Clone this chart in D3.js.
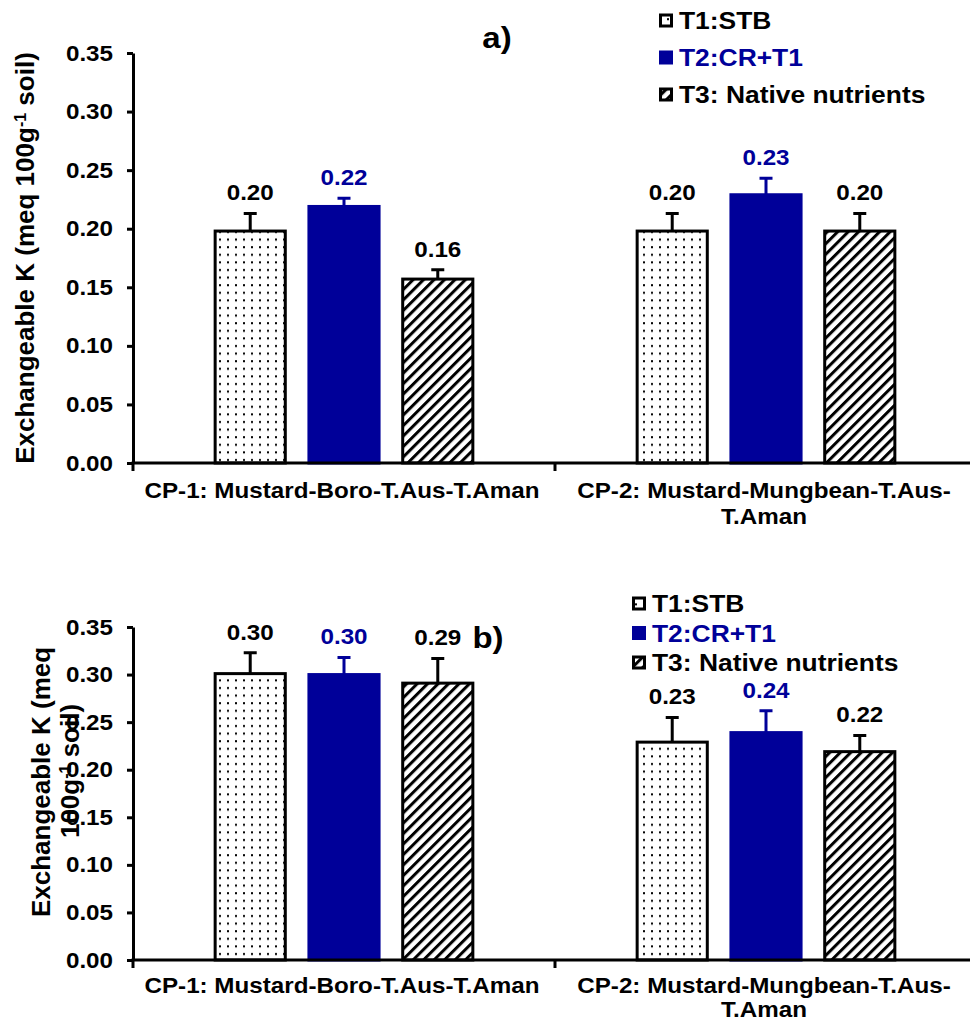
<!DOCTYPE html>
<html>
<head>
<meta charset="utf-8">
<script src="https://cdn.jsdelivr.net/npm/d3@7"></script>
<style>
  body { margin: 0; background: #fff; }
  text { font-family: Arial, "Liberation Sans", sans-serif; font-weight: bold; }
</style>
</head>
<body>
<script>
// categories, series and values
const categories = ["CP-1", "CP-2"];
const categoryLines = [
	["CP-1: Mustard-Boro-T.Aus-T.Aman"],
	["CP-2: Mustard-Mungbean-T.Aus-", "T.Aman"]
];
const seriesNames = ["T1:STB", "T2:CR+T1", "T3: Native nutrients"];
const yTicks = [0, 0.05, 0.1, 0.15, 0.2, 0.25, 0.3, 0.35];

// panel a
const a_T1 = [0.198, 0.198];
const a_T2 = [0.219, 0.229];
const a_T3 = [0.157, 0.198];
const a_errT1 = [0.015, 0.015];
const a_errT2 = [0.007, 0.014];
const a_errT3 = [0.008, 0.015];

// panel b
const b_T1 = [0.301, 0.229];
const b_T2 = [0.300, 0.239];
const b_T3 = [0.291, 0.219];
const b_errT1 = [0.022, 0.026];
const b_errT2 = [0.018, 0.023];
const b_errT3 = [0.026, 0.017];

const width = 970, height = 1027;
const navy = "#000099";
const SX = 1.1; // horizontal stretch of the text in the original image

const svg = d3.select("body").append("svg")
	.attr("width", width)
	.attr("height", height)
	.attr("viewBox", [0, 0, width, height]);

// fill patterns
const defs = svg.append("defs");
const dots = defs.append("pattern")
	.attr("id", "dots")
	.attr("patternUnits", "userSpaceOnUse")
	.attr("width", 8).attr("height", 7.6);
dots.append("rect").attr("width", 8).attr("height", 7.6).attr("fill", "#fff");
dots.append("rect").attr("x", 3).attr("y", 3).attr("width", 2).attr("height", 2).attr("fill", "#000");

const hatch = defs.append("pattern")
	.attr("id", "hatch")
	.attr("patternUnits", "userSpaceOnUse")
	.attr("width", 7.4).attr("height", 10)
	.attr("patternTransform", "rotate(45)");
hatch.append("rect").attr("width", 7.4).attr("height", 10).attr("fill", "#fff");
hatch.append("rect").attr("x", 0).attr("width", 3).attr("height", 10).attr("fill", "#000");

const fills = ["url(#dots)", navy, "url(#hatch)"];
const strokes = ["#000", navy, "#000"];
const labelColors = ["#000", navy, "#000"];

// helper: horizontal text stretched like the source
function stext(g, x, y, str, size, color, anchor) {
	return g.append("text")
		.attr("transform", `translate(${x},${y}) scale(${SX},1)`)
		.attr("text-anchor", anchor || "middle")
		.style("font-size", size + "px")
		.attr("fill", color || "#000")
		.text(str);
}

const xLeft = 133, xRight = 977;

function drawPanel(p) {
	const g = svg.append("g");

	const x = d3.scaleBand().domain(categories).range([xLeft, xRight]);
	const xs = d3.scaleBand().domain(seriesNames).range([0, x.bandwidth()])
		.paddingInner(0.22).paddingOuter(0.86);
	const y = d3.scaleLinear().domain([0, 0.35]).range([p.yBottom, p.yTop]);

	const vals = [p.t1, p.t2, p.t3];
	const errs = [p.e1, p.e2, p.e3];
	const rows = [];
	seriesNames.forEach((s, i) => {
		categories.forEach((c, j) => {
			rows.push({ s: s, i: i, c: c, v: vals[i][j], e: errs[i][j] });
		});
	});

	// bars
	g.selectAll("rect.bar")
		.data(rows)
		.join("rect")
		.attr("class", "bar")
		.attr("x", (d) => x(d.c) + xs(d.s) + 1.5)
		.attr("y", (d) => y(d.v))
		.attr("width", xs.bandwidth() - 3)
		.attr("height", (d) => y(0) - y(d.v))
		.attr("fill", (d) => fills[d.i])
		.attr("stroke", (d) => strokes[d.i])
		.attr("stroke-width", 3);

	// error bars
	const cx = (d) => x(d.c) + xs(d.s) + xs.bandwidth() / 2;
	g.selectAll("path.err")
		.data(rows)
		.join("path")
		.attr("class", "err")
		.attr("d", (d) => `M${cx(d)},${y(d.v)}V${y(d.v + d.e)}M${cx(d) - 6.5},${y(d.v + d.e)}H${cx(d) + 6.5}`)
		.attr("stroke", (d) => strokes[d.i])
		.attr("stroke-width", 3)
		.attr("fill", "none");

	// value labels
	rows.forEach((d) => {
		stext(g, cx(d), y(d.v + d.e) - 13, d.v.toFixed(2), 22, labelColors[d.i]);
	});

	// y axis
	const yAxis = g.append("g")
		.attr("transform", `translate(${xLeft},0)`)
		.call(d3.axisLeft(y).tickValues(yTicks).tickSize(6).tickSizeOuter(0).tickFormat(d3.format(".2f")));
	yAxis.select(".domain").attr("stroke-width", 3).attr("stroke", "#000");
	yAxis.selectAll(".tick line").attr("stroke-width", 3).attr("stroke", "#000");
	yAxis.selectAll(".tick text")
		.attr("x", -20 / SX)
		.attr("transform", `scale(${SX},1)`)
		.attr("fill", "#000")
		.style("font-size", "22px")
		.style("font-family", "Arial, 'Liberation Sans', sans-serif");

	// x axis
	g.append("line")
		.attr("x1", xLeft - 1.5).attr("x2", xRight)
		.attr("y1", y(0)).attr("y2", y(0))
		.attr("stroke", "#000").attr("stroke-width", 3);
	g.selectAll("line.xtick")
		.data(categories.concat(["end"]))
		.join("line")
		.attr("class", "xtick")
		.attr("x1", (d) => (d === "end" ? xRight : x(d)))
		.attr("x2", (d) => (d === "end" ? xRight : x(d)))
		.attr("y1", y(0)).attr("y2", y(0) + 8)
		.attr("stroke", "#000").attr("stroke-width", 3);

	categories.forEach((c, j) => {
		categoryLines[j].forEach((line, k) => {
			stext(g, x(c) + x.bandwidth() / 2 - 2, y(0) + p.catDy + k * p.catStep, line, 22);
		});
	});

	// y axis title
	p.yTitle.forEach((t) => {
		const tt = g.append("text")
			.attr("transform", `translate(${t.x},${t.y}) rotate(-90)`)
			.attr("text-anchor", "middle")
			.style("font-size", "26px")
			.attr("fill", "#000");
		t.parts.forEach((part) => {
			if (part.sup) {
				tt.append("tspan").attr("baseline-shift", "super").style("font-size", "16px").text(part.sup);
			} else {
				tt.append("tspan").text(part.t);
			}
		});
	});

	// panel title
	stext(g, p.titleX, p.titleY, p.title, 30);

	// legend
	seriesNames.forEach((s, i) => {
		const ly = p.legY + i * p.legStep;
		g.append("rect")
			.attr("x", p.legX + 1.5).attr("y", ly - 6)
			.attr("width", 11).attr("height", 11)
			.attr("fill", fills[i])
			.attr("stroke", strokes[i]).attr("stroke-width", 3);
		stext(g, p.legX + 20, ly + 8, s, 24, labelColors[i], "start");
	});
}

drawPanel({
	yTop: 53, yBottom: 463,
	t1: a_T1, t2: a_T2, t3: a_T3, e1: a_errT1, e2: a_errT2, e3: a_errT3,
	title: "a)", titleX: 497, titleY: 48,
	legX: 659, legY: 21, legStep: 37,
	catDy: 35, catStep: 26,
	yTitle: [
		{ x: 34, y: 258, parts: [{ t: "Exchangeable K (meq 100g" }, { sup: "-1" }, { t: " soil)" }] }
	]
});

drawPanel({
	yTop: 627, yBottom: 960,
	t1: b_T1, t2: b_T2, t3: b_T3, e1: b_errT1, e2: b_errT2, e3: b_errT3,
	title: "b)", titleX: 488, titleY: 648,
	legX: 632, legY: 604, legStep: 29.5,
	catDy: 33, catStep: 24,
	yTitle: [
		{ x: 50, y: 782, parts: [{ t: "Exchangeable K (meq" }] },
		{ x: 79, y: 771, parts: [{ t: "100g" }, { sup: "-1" }, { t: " soil)" }] }
	]
});
</script>
</body>
</html>
